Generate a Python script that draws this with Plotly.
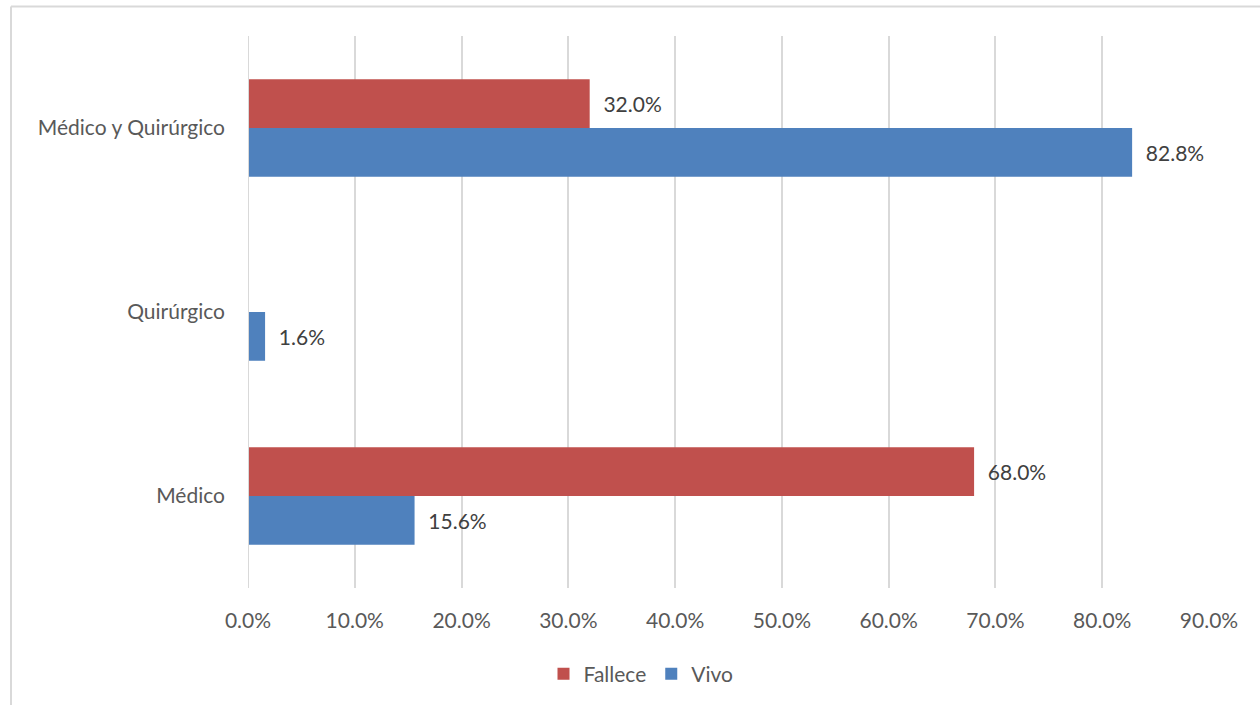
import plotly.graph_objects as go

# Treatment type by outcome (percent of each outcome group)
categories = ["Médico", "Quirúrgico", "Médico y Quirúrgico"]
vivo = [15.6, 1.6, 82.8]
fallece = [68.0, 0.0, 32.0]
x_ticks = [0, 10, 20, 30, 40, 50, 60, 70, 80, 90]
x_tick_labels = [f"{v:.1f}%" for v in x_ticks]

RED = "#c0504d"
BLUE = "#4f81bd"
FONT = "Lato"
SIZE = 21


def labels(values):
    return [f"  {v:.1f}%" if v > 0 else "" for v in values]


fig = go.Figure()
fig.add_trace(go.Bar(
    name="Vivo", y=categories, x=vivo, orientation="h",
    marker=dict(color=BLUE, line=dict(width=0)),
    text=labels(vivo), textposition="outside", cliponaxis=False,
    textfont=dict(family=FONT, size=SIZE, color="#404040"),
    legendrank=2,
))
fig.add_trace(go.Bar(
    name="Fallece", y=categories, x=fallece, orientation="h",
    marker=dict(color=RED, line=dict(width=0)),
    text=labels(fallece), textposition="outside", cliponaxis=False,
    textfont=dict(family=FONT, size=SIZE, color="#404040"),
    legendrank=1,
))

# page-pixel helpers for the plot frame (plot area: x 248..1209, y 36..589)
L, R, T, B = 248, 1209, 36, 589


def px_x(p):
    return (p - L) / (R - L)


def px_y(p):
    return (B - p) / (B - T)


fig.update_layout(
    width=1260, height=705,
    margin=dict(l=L, r=1260 - R, t=T, b=705 - B),
    paper_bgcolor="white", plot_bgcolor="white",
    barmode="group", bargap=0.47, bargroupgap=0,
    font=dict(family=FONT, size=SIZE, color="#595959"),
    showlegend=True,
    legend=dict(
        orientation="h", x=px_x(641), xanchor="center",
        y=px_y(674), yanchor="middle",
        font=dict(family=FONT, size=SIZE, color="#595959"),
        itemwidth=30, traceorder="normal",
    ),
    xaxis=dict(
        range=[0, 90], tickvals=x_ticks, ticktext=x_tick_labels,
        showgrid=True, gridcolor="#d9d9d9", gridwidth=2,
        zeroline=False, showline=False, ticks="",
        ticklabelstandoff=18,
        fixedrange=True,
    ),
    yaxis=dict(
        categoryorder="array", categoryarray=categories,
        showgrid=False, zeroline=False,
        showline=False, ticks="",
        ticklabelstandoff=22,
        fixedrange=True,
    ),
    shapes=[
        # vertical axis line at 0
        dict(type="line", xref="x", yref="paper", x0=0, x1=0, y0=0, y1=1,
             line=dict(color="#d9d9d9", width=2), layer="above"),
        # chart frame (top and left edges)
        dict(type="line", xref="paper", yref="paper",
             x0=px_x(11), x1=px_x(1262), y0=px_y(6.5), y1=px_y(6.5),
             line=dict(color="#d9d9d9", width=2)),
        dict(type="line", xref="paper", yref="paper",
             x0=px_x(11), x1=px_x(11), y0=px_y(6.5), y1=px_y(707),
             line=dict(color="#d9d9d9", width=2)),
    ],
)

fig.write_html("out.html")
